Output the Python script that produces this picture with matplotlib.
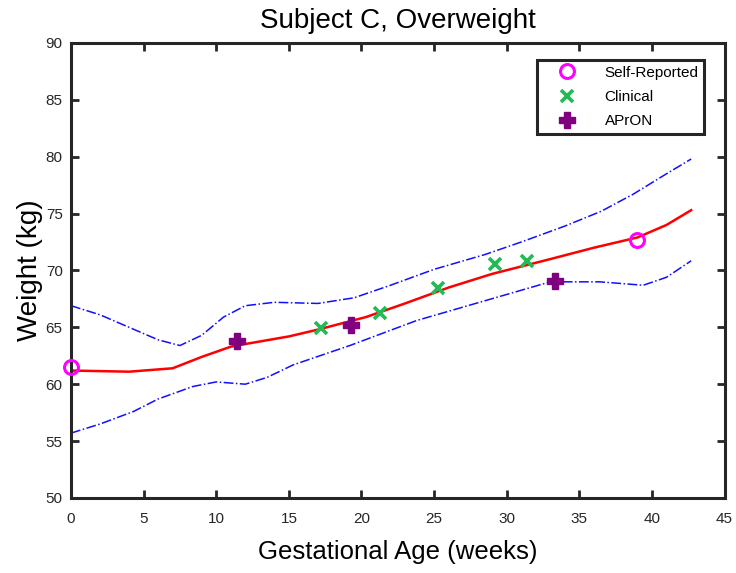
import matplotlib.pyplot as plt

# Weight trajectory for one subject across gestation
fit_weeks = [0, 4, 7, 9, 11, 12.3, 15, 17, 20.3, 23, 26, 29, 33, 36, 39, 41, 42.7]
fit_kg = [61.2, 61.1, 61.4, 62.4, 63.3, 63.6, 64.2, 64.8, 65.9, 67.1, 68.5,
          69.7, 71.0, 72.0, 72.9, 74.0, 75.3]

upper_weeks = [0, 2, 4, 6, 7.5, 9, 10.5, 12, 14, 17, 19.5, 22, 25, 28.5, 31,
               34, 36.5, 38.7, 41, 42.7]
upper_kg = [66.9, 66.1, 65.0, 63.9, 63.4, 64.3, 65.9, 66.9, 67.2, 67.1, 67.6,
            68.7, 70.1, 71.4, 72.5, 73.9, 75.2, 76.7, 78.5, 79.8]

lower_weeks = [0, 2, 4.3, 6, 8.4, 10, 12, 13.5, 15.3, 19.2, 23.8, 28.4, 33,
               36.4, 39.4, 41, 42.7]
lower_kg = [55.7, 56.5, 57.6, 58.7, 59.8, 60.2, 60.0, 60.6, 61.7, 63.4, 65.6,
            67.3, 69.0, 69.0, 68.7, 69.4, 70.85]

self_weeks = [0, 39.0]
self_kg = [61.5, 72.7]

clinical_weeks = [17.2, 21.3, 25.3, 29.2, 31.4]
clinical_kg = [64.9, 66.3, 68.5, 70.6, 70.85]

apron_weeks = [11.4, 19.3, 33.3]
apron_kg = [63.8, 65.2, 69.1]

x_ticks = list(range(0, 50, 5))
y_ticks = list(range(50, 95, 5))

plt.rcParams["font.family"] = ["Liberation Sans", "DejaVu Sans"]

fig = plt.figure(figsize=(7.36, 5.73), dpi=100)
ax = fig.add_axes([0.0965, 0.131, 0.888, 0.794])

# confidence band (dash-dot) and fitted curve
ax.plot(upper_weeks, upper_kg, color="#1010ff", linestyle="-.", linewidth=1.1)
ax.plot(lower_weeks, lower_kg, color="#1010ff", linestyle="-.", linewidth=1.1)
ax.plot(fit_weeks, fit_kg, color="#ff0000", linewidth=1.8)

ax.plot(self_weeks, self_kg, linestyle="none", marker="o", markersize=10,
        markerfacecolor="none", markeredgecolor="#ff00ff", markeredgewidth=2.2,
        label="Self-Reported", clip_on=False, zorder=5)
ax.plot(clinical_weeks, clinical_kg, linestyle="none", marker="x", markersize=8,
        markeredgecolor="#22bb55", markeredgewidth=2.6, label="Clinical", zorder=5)
ax.plot(apron_weeks, apron_kg, linestyle="none", marker="P", markersize=12,
        markerfacecolor="#800080", markeredgecolor="#800080", label="APrON", zorder=5)

ax.set_xlim(0, 45)
ax.set_ylim(50, 90)
ax.set_xticks(x_ticks)
ax.set_yticks(y_ticks)
ax.tick_params(direction="in", length=6, width=2, top=True, right=True,
               labelsize=11, colors="#262626")
ax.tick_params(axis="x", pad=10)
ax.tick_params(axis="y", pad=6)
for s in ax.spines.values():
    s.set_linewidth(2.2)
    s.set_color("#262626")

ax.set_title("Subject C, Overweight", fontsize=20, pad=11)
ax.set_xlabel("Gestational Age (weeks)", fontsize=18.5, labelpad=10)
ax.set_ylabel("Weight (kg)", fontsize=20, labelpad=2)

leg = ax.legend(loc="upper right", bbox_to_anchor=(0.969, 0.963), fontsize=11,
                fancybox=False, framealpha=1, edgecolor="#262626",
                handlelength=3.2, handletextpad=0.85, borderpad=0.38,
                labelspacing=0.67, borderaxespad=0)
leg.get_frame().set_linewidth(2.2)

fig.savefig("out.png", dpi=100)
